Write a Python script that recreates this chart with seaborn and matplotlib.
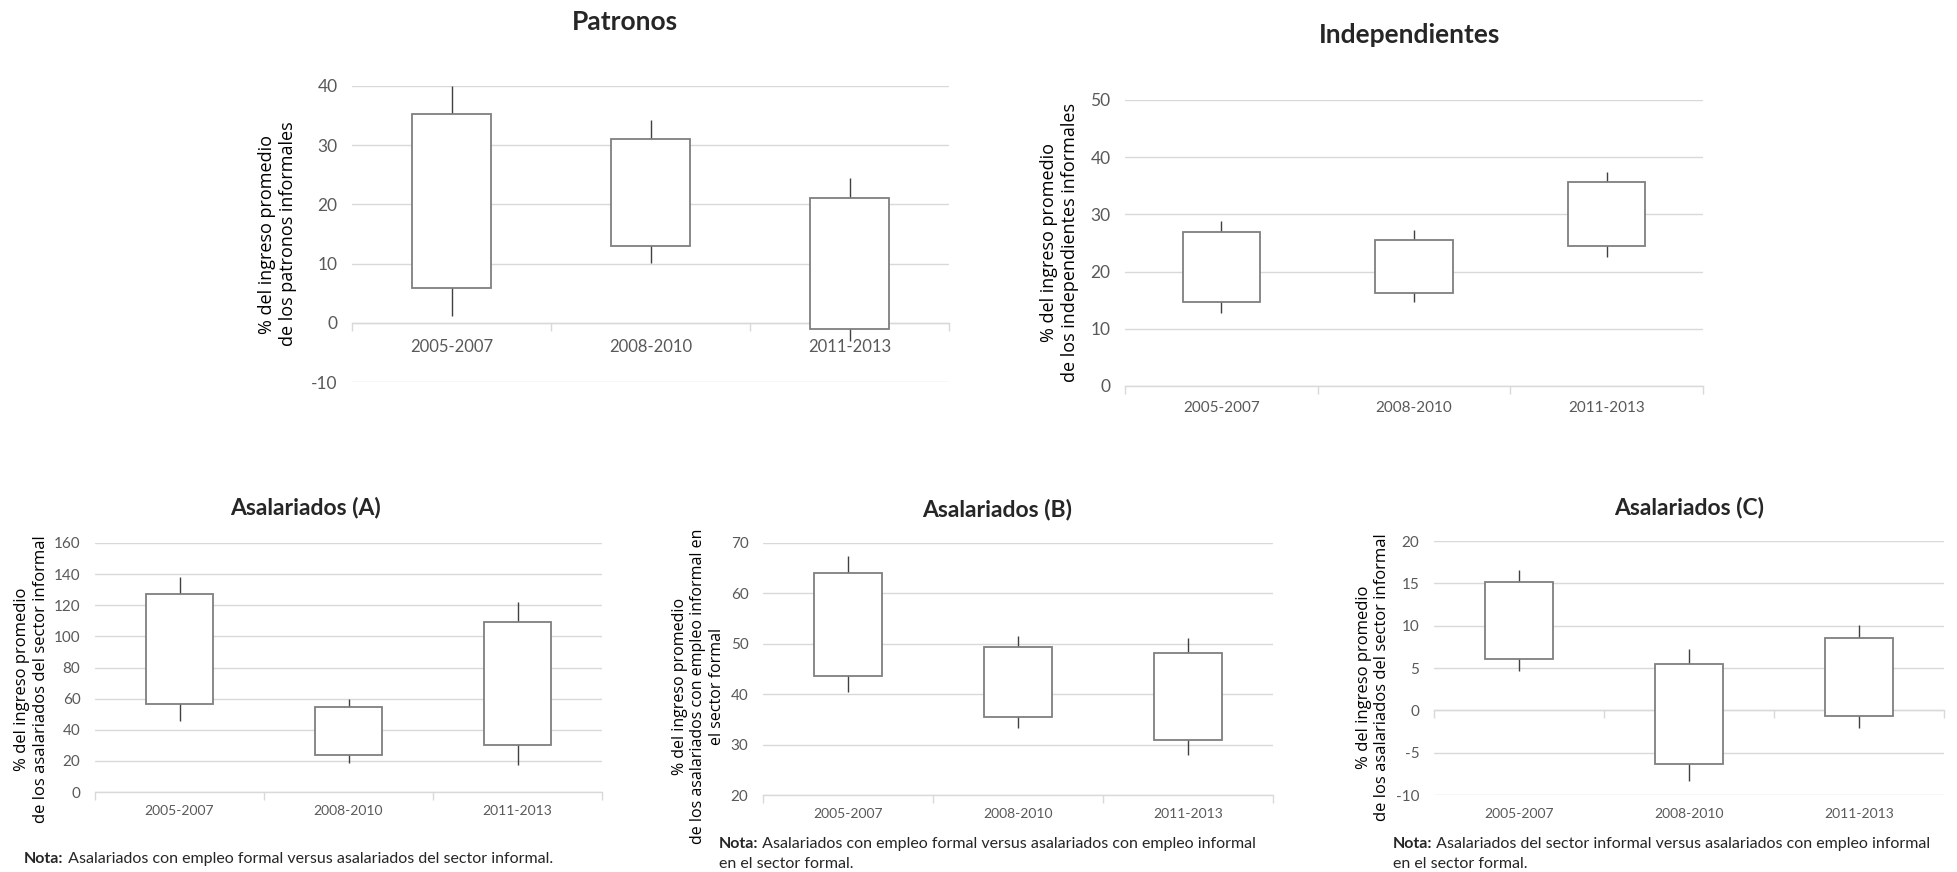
import matplotlib
matplotlib.use("Agg")
import matplotlib.pyplot as plt
import numpy as np
import pandas as pd
import seaborn as sns

periodos = ["2005-2007", "2008-2010", "2011-2013"]

# patronos: minimo, cuartil inferior, cuartil superior, maximo
patronos_min = [1.2, 10.1, -3.1]
patronos_q1 = [5.9, 13.0, -1.0]
patronos_q3 = [35.3, 31.1, 21.0]
patronos_max = [40.0, 34.2, 24.4]

indep_min = [12.7, 14.7, 22.5]
indep_q1 = [14.6, 16.2, 24.4]
indep_q3 = [26.9, 25.6, 35.6]
indep_max = [28.8, 27.2, 37.4]

asal_a_min = [45.4, 18.4, 17.3]
asal_a_q1 = [56.8, 23.8, 30.0]
asal_a_q3 = [127.2, 54.4, 109.0]
asal_a_max = [138.1, 59.5, 121.9]

asal_b_min = [40.5, 33.2, 27.9]
asal_b_q1 = [43.7, 35.5, 31.0]
asal_b_q3 = [64.1, 49.4, 48.2]
asal_b_max = [67.4, 51.6, 51.1]

asal_c_min = [4.6, -8.3, -2.1]
asal_c_q1 = [6.1, -6.3, -0.7]
asal_c_q3 = [15.1, 5.5, 8.6]
asal_c_max = [16.6, 7.2, 10.1]

sns.set_style("whitegrid", {"grid.color": "#d9d9d9"})
plt.rcParams["font.family"] = ["Lato", "DejaVu Sans"]

GRIS_TEXTO = "#595959"
GRIS_LINEA = "#d9d9d9"
W, H = 1957, 872


def dibujar_panel(ax, minimo, q1, q3, maximo, yticks, cruce, ylabel, label_xy,
                  titulo, titulo_xy, titulo_size, ytick_size, xtick_size, ylabel_size, pad,
                  etiquetas_abajo=False):
    df = pd.DataFrame({"periodo": periodos, "min": minimo, "q1": q1, "q3": q3, "max": maximo})
    pos = np.arange(len(df))
    # bigotes detras de la caja
    ax.vlines(pos, df["min"], df["max"], color="#404040", lw=1.0, zorder=2)
    ax.bar(pos, df["q3"] - df["q1"], bottom=df["q1"], width=0.4, color="white",
           edgecolor="#7f7f7f", lw=1.3, zorder=3)

    ax.set_xlim(-0.5, 2.5)
    ax.set_ylim(yticks[0], yticks[-1])
    ax.set_yticks(yticks)
    ax.set_yticklabels([str(v) for v in yticks])
    ax.set_xticks(pos)
    ax.set_xticklabels(df["periodo"])
    ax.tick_params(axis="x", which="major", length=0, pad=pad,
                   labelsize=xtick_size, labelcolor=GRIS_TEXTO)
    ax.tick_params(axis="y", length=0, pad=10.5, labelsize=ytick_size, labelcolor=GRIS_TEXTO)
    ax.grid(axis="x", visible=False)
    ax.grid(axis="y", color=GRIS_LINEA, lw=1)

    for lado in ["left", "right", "top"]:
        ax.spines[lado].set_visible(False)

    if etiquetas_abajo:
        # eje de categorias en el cero, etiquetas al pie del grafico
        ax.spines["bottom"].set_visible(False)
        frac = (cruce - yticks[0]) / (yticks[-1] - yticks[0])
        eje = ax.secondary_xaxis(frac)
        eje.set_xticks([-0.5, 0.5, 1.5, 2.5])
        eje.set_xticklabels([])
        eje.tick_params(length=6, width=1, color=GRIS_LINEA, direction="out")
        eje.spines["bottom"].set_color(GRIS_LINEA)
        eje.spines["bottom"].set_linewidth(1)
    else:
        ax.set_xticks([-0.5, 0.5, 1.5, 2.5], minor=True)
        ax.tick_params(axis="x", which="minor", bottom=True, length=6, width=1,
                       color=GRIS_LINEA, direction="out")
        ax.spines["bottom"].set_position(("data", cruce))
        ax.spines["bottom"].set_color(GRIS_LINEA)
        ax.spines["bottom"].set_linewidth(1)

    ax.set_ylabel(ylabel, fontsize=ylabel_size, family=["Open Sans", "DejaVu Sans"], color="black")
    ax.yaxis.set_label_coords(*label_xy)
    fig.text(titulo_xy[0] / W, 1 - titulo_xy[1] / H, titulo, fontsize=titulo_size,
             fontweight="bold", ha="center", va="center")


def nota(x, y, texto, segunda=None, size=11.5):
    t = fig.text(x / W, 1 - y / H, "Nota:", fontsize=size, fontweight="bold", va="baseline")
    plt.annotate(" " + texto, xy=(1, 0), xycoords=t, fontsize=size, va="bottom", ha="left",
                 annotation_clip=False)
    if segunda:
        fig.text(x / W, 1 - (y + 20) / H, segunda, fontsize=size, va="baseline")


fig = plt.figure(figsize=(19.57, 8.72), dpi=100)

ax1 = fig.add_axes([352 / W, 1 - 382 / H, 597 / W, 296 / H])
dibujar_panel(ax1, patronos_min, patronos_q1, patronos_q3, patronos_max,
              [-10, 0, 10, 20, 30, 40], 0,
              "% del ingreso promedio\nde los patronos informales", (-0.092, 0.5),
              "Patronos", (625, 22), 19, 12.5, 12, 13, 11.5)

ax2 = fig.add_axes([1125 / W, 1 - 386 / H, 578 / W, 286 / H])
dibujar_panel(ax2, indep_min, indep_q1, indep_q3, indep_max,
              [0, 10, 20, 30, 40, 50], 0,
              "% del ingreso promedio\nde los independientes informales", (-0.080, 0.5),
              "Independientes", (1410, 35), 19, 12.5, 11, 13, 11)

ax3 = fig.add_axes([95 / W, 1 - 792 / H, 507 / W, 249 / H])
dibujar_panel(ax3, asal_a_min, asal_a_q1, asal_a_q3, asal_a_max,
              [0, 20, 40, 60, 80, 100, 120, 140, 160], 0,
              "% del ingreso promedio\nde los asalariados del sector informal", (-0.091, 0.454),
              "Asalariados (A)", (305, 508), 16.5, 11, 10, 12, 9)

ax4 = fig.add_axes([763 / W, 1 - 795 / H, 510 / W, 252 / H])
dibujar_panel(ax4, asal_b_min, asal_b_q1, asal_b_q3, asal_b_max,
              [20, 30, 40, 50, 60, 70], 20,
              "% del ingreso promedio\nde los asalariados con empleo informal en\nel sector formal", (-0.075, 0.43),
              "Asalariados (B)", (997, 509), 16.5, 11, 10, 11.5, 9)

ax5 = fig.add_axes([1434 / W, 1 - 795 / H, 510 / W, 254 / H])
dibujar_panel(ax5, asal_c_min, asal_c_q1, asal_c_q3, asal_c_max,
              [-10, -5, 0, 5, 10, 15, 20], 0,
              "% del ingreso promedio\nde los asalariados del sector informal", (-0.086, 0.465),
              "Asalariados (C)", (1689, 507), 16.5, 11, 10, 12, 9, etiquetas_abajo=True)

nota(24, 863, "Asalariados con empleo formal versus asalariados del sector informal.")
nota(719, 848, "Asalariados con empleo formal versus asalariados con empleo informal",
     "en el sector formal.")
nota(1393, 848, "Asalariados del sector informal versus asalariados con empleo informal",
     "en el sector formal.")

fig.savefig("out.png", dpi=100, facecolor="white")
